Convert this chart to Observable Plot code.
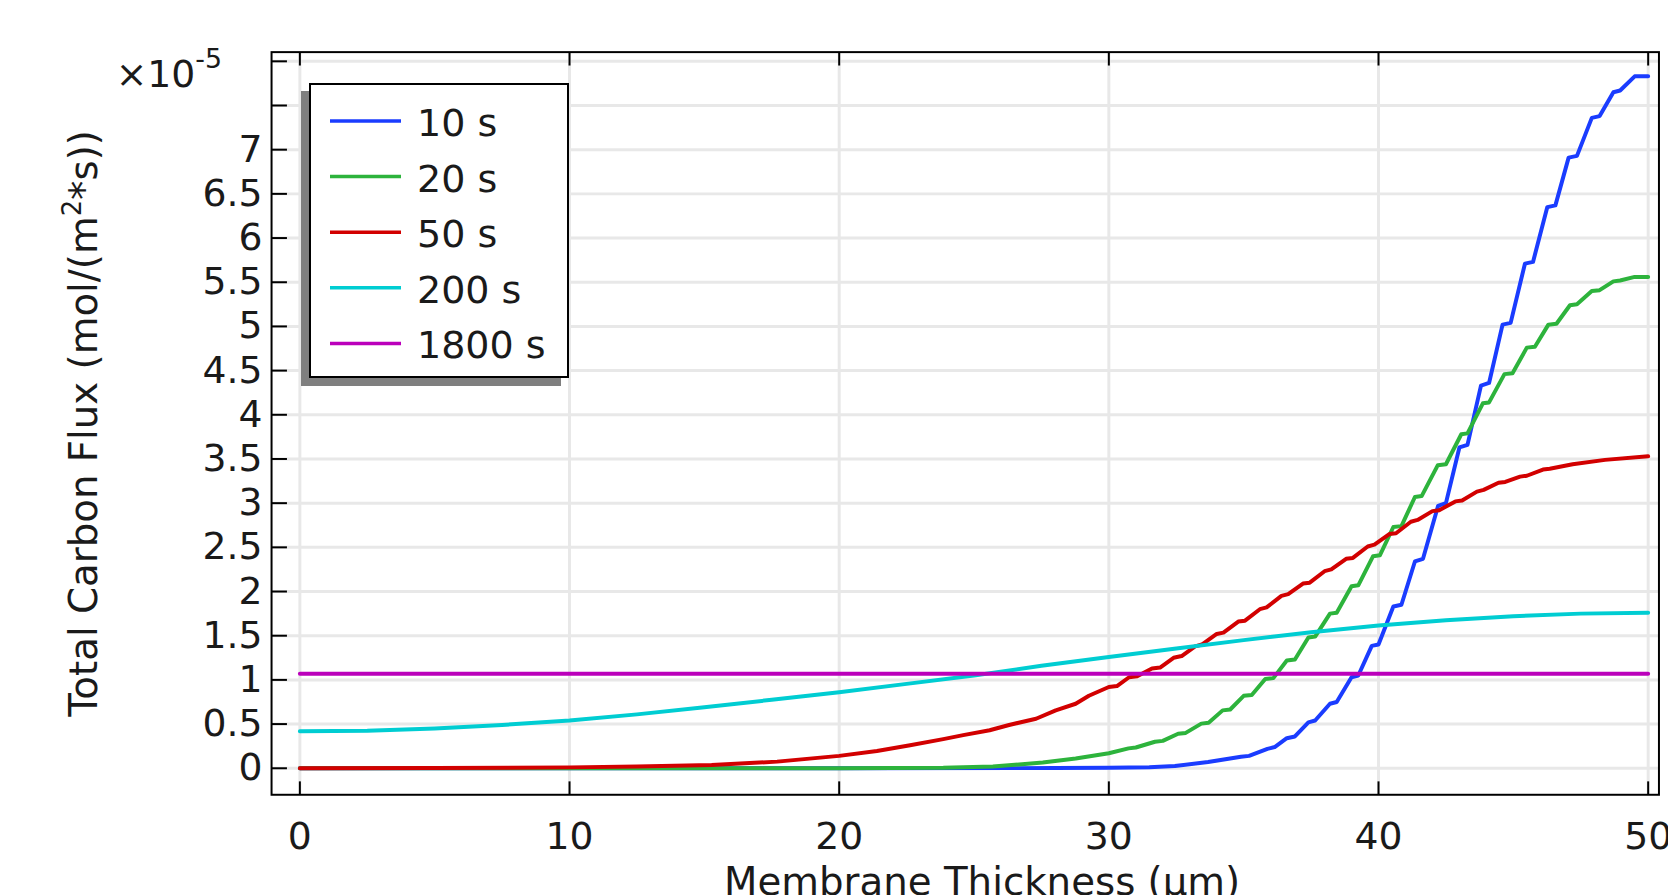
<!DOCTYPE html>
<html><head><meta charset="utf-8">
<script src="https://cdn.jsdelivr.net/npm/d3@7"></script>
<script src="https://cdn.jsdelivr.net/npm/@observablehq/plot@0.6"></script>
<style>
html,body{margin:0;padding:0;background:#fff;overflow:hidden;width:1668px;height:895px}
#wrap{position:relative;width:1668px;height:895px;overflow:hidden;background:#fff}
#legend{position:absolute;left:309px;top:83px;width:260px;height:295px;box-sizing:border-box;border:2px solid #000;background:#fff;box-shadow:-8px 8px 0 #7f7f7f}
#legend svg{display:block}
</style></head><body>
<div id="wrap"><div id="chart"></div><div id="legend"></div></div>
<script>
// ---- data (x in µm, y in units of 1e-5 mol/(m^2*s)) ----
const seriesNames = ["10 s", "20 s", "50 s", "200 s", "1800 s"];
const seriesColors = ["#1a3cff", "#2db33c", "#d20000", "#00cdd2", "#bb00bb"];

const flux10 = [[0,0],[10,0],[20,0],[28,0.002],[30,0.005],[31.5,0.012],[32.45,0.025],[33.68,0.07],[34.9,0.13],[35.2,0.14],[35.88,0.22],[36.15,0.24],[36.6,0.34],[36.9,0.36],[37.4,0.52],[37.65,0.54],[38.2,0.73],[38.45,0.75],[39.0,1.03],[39.25,1.05],[39.75,1.385],[40.0,1.40],[40.55,1.83],[40.85,1.85],[41.35,2.34],[41.65,2.37],[42.21,2.97],[42.5,3.0],[43.0,3.63],[43.3,3.66],[43.8,4.33],[44.1,4.36],[44.6,5.02],[44.9,5.04],[45.43,5.71],[45.73,5.73],[46.26,6.35],[46.56,6.37],[47.05,6.91],[47.36,6.93],[47.91,7.36],[48.2,7.38],[48.71,7.65],[48.96,7.67],[49.5,7.83],[50,7.83]];

const flux20 = [[0,0],[10,0],[20,0],[22,0.003],[23.86,0.005],[25.7,0.02],[27.55,0.065],[28.77,0.11],[30.0,0.17],[30.73,0.225],[31.0,0.235],[31.71,0.30],[32.0,0.31],[32.57,0.39],[32.85,0.40],[33.43,0.505],[33.7,0.515],[34.22,0.655],[34.5,0.665],[35.0,0.82],[35.3,0.83],[35.8,1.01],[36.1,1.02],[36.6,1.22],[36.9,1.23],[37.4,1.48],[37.65,1.49],[38.2,1.75],[38.45,1.76],[39.0,2.06],[39.25,2.07],[39.8,2.40],[40.05,2.41],[40.55,2.73],[40.85,2.74],[41.35,3.07],[41.6,3.08],[42.2,3.43],[42.5,3.44],[43.07,3.78],[43.3,3.79],[43.87,4.13],[44.1,4.14],[44.67,4.46],[44.97,4.47],[45.5,4.76],[45.8,4.77],[46.3,5.02],[46.6,5.03],[47.1,5.24],[47.36,5.25],[47.91,5.40],[48.2,5.41],[48.71,5.51],[48.96,5.52],[49.5,5.56],[50,5.56]];

const flux50 = [[0,0],[5,0.002],[10,0.01],[12.5,0.02],[15.27,0.037],[17.7,0.075],[20,0.14],[21.4,0.195],[22.63,0.26],[23.86,0.33],[24.6,0.375],[25.58,0.43],[26.3,0.49],[27.3,0.56],[28.03,0.655],[28.77,0.73],[29.26,0.82],[30.0,0.92],[30.3,0.93],[30.75,1.03],[31.05,1.04],[31.6,1.13],[31.9,1.14],[32.4,1.25],[32.7,1.27],[33.2,1.38],[33.45,1.40],[34.0,1.52],[34.25,1.535],[34.8,1.66],[35.05,1.67],[35.6,1.80],[35.85,1.82],[36.4,1.95],[36.65,1.97],[37.2,2.09],[37.45,2.10],[38.0,2.23],[38.25,2.25],[38.8,2.37],[39.05,2.38],[39.6,2.51],[39.85,2.53],[40.4,2.65],[40.65,2.66],[41.2,2.79],[41.45,2.81],[42.0,2.91],[42.25,2.92],[42.85,3.02],[43.1,3.03],[43.65,3.13],[43.9,3.15],[44.45,3.23],[44.7,3.24],[45.25,3.30],[45.5,3.31],[46.1,3.38],[46.35,3.39],[47.2,3.44],[48.4,3.49],[50,3.53]];

const flux200 = [[0,0.42],[2.5,0.425],[5,0.45],[7.5,0.49],[10,0.54],[12.5,0.61],[15,0.69],[17.5,0.775],[20,0.86],[22.5,0.955],[25,1.05],[27.5,1.16],[30,1.26],[32.5,1.355],[35,1.45],[37.5,1.54],[40,1.615],[42.5,1.675],[45,1.72],[47.5,1.75],[50,1.76]];

const flux1800 = [[0,1.07],[50,1.07]];

const xTicks = [0, 10, 20, 30, 40, 50];
const yTicks = [0, 0.5, 1, 1.5, 2, 2.5, 3, 3.5, 4, 4.5, 5, 5.5, 6, 6.5, 7, 7.5, 8];
const yLabelMax = 7;
const xLabel = "Membrane Thickness (µm)";
const yLabelParts = ["Total Carbon Flux (mol/(m", "2", "*s))"];
const expParts = ["×10", "-5"];

// ---- table for the library ----
const allSeries = [flux10, flux20, flux50, flux200, flux1800];
const rows = seriesNames.flatMap((name, i) => allSeries[i].map(([x, y]) => ({name, x, y})));

const FONT = "DejaVu Sans";
const FS = 38;
const LFS = 39;
const TXT = "#1a1a1a";

const chart = Plot.plot({
  width: 1680,
  height: 895,
  marginLeft: 273,
  marginRight: 9.6,
  marginTop: 52,
  marginBottom: 95,
  style: {fontFamily: FONT, fontSize: FS + "px", color: TXT, background: "transparent", overflow: "visible"},
  x: {domain: [-1.05, 50.4], axis: null},
  y: {domain: [-0.30, 8.104], axis: null},
  color: {domain: seriesNames, range: seriesColors},
  marks: [
    Plot.gridX(xTicks, {stroke: "#e8e8e8", strokeOpacity: 1, strokeWidth: 3}),
    Plot.gridY(yTicks, {stroke: "#e8e8e8", strokeOpacity: 1, strokeWidth: 3}),
    Plot.line(rows, {x: "x", y: "y", z: "name", stroke: "name", strokeWidth: 4, strokeLinejoin: "round", strokeLinecap: "round"}),
    Plot.frame({stroke: "#000", strokeWidth: 2}),
    Plot.axisX(xTicks, {anchor: "bottom", tickSize: -13, fill: "none", stroke: "#000", strokeWidth: 2, label: null}),
    Plot.axisX(xTicks, {anchor: "top", tickSize: -13, fill: "none", stroke: "#000", strokeWidth: 2, label: null}),
    Plot.axisY(yTicks, {anchor: "left", tickSize: -16, fill: "none", stroke: "#000", strokeWidth: 2, label: null}),
    Plot.axisX(xTicks, {anchor: "bottom", tickSize: 0, tickPadding: 28, fontSize: FS, fill: TXT, label: null, tickFormat: d => String(d)}),
    Plot.axisY(yTicks, {anchor: "left", tickSize: 0, tickPadding: 9, fontSize: FS, fill: TXT, label: null, tickFormat: d => d > yLabelMax ? "" : String(d)}),
    Plot.text([xLabel], {frameAnchor: "bottom", textAnchor: "middle", lineAnchor: "middle", dx: 17, dy: 88, fontSize: LFS, fill: TXT}),
    Plot.text([yLabelParts.join("")], {frameAnchor: "left", textAnchor: "middle", lineAnchor: "middle", dx: -188, rotate: -90, fontSize: LFS, fill: TXT}),
    Plot.text([expParts.join("")], {frameAnchor: "top-left", textAnchor: "start", lineAnchor: "middle", dx: -157, dy: 22.5, fontSize: FS, fill: TXT})
  ]
});
document.getElementById("chart").appendChild(chart);

// superscripts as real tspans
function superscript(parts, supSize, shift) {
  const full = parts.join("");
  const t = d3.select(chart).selectAll("text").filter(function () { return this.textContent === full; });
  if (t.empty()) return;
  t.text(null);
  parts.forEach((p, i) => {
    const ts = t.append("tspan").text(p);
    if (i % 2 === 1) ts.attr("font-size", supSize).attr("dy", -shift);
    else if (i > 0) ts.attr("dy", shift);
  });
}
superscript(yLabelParts, 26, 16);
superscript(expParts, 27, 19);

// legend (HTML/SVG overlay)
const lg = d3.select("#legend").append("svg").attr("width", 256).attr("height", 291)
  .style("font-family", FONT).style("font-size", FS + "px");
seriesNames.forEach((name, i) => {
  const cy = 36 + i * 55.6;
  lg.append("line").attr("x1", 19).attr("x2", 90).attr("y1", cy).attr("y2", cy)
    .attr("stroke", seriesColors[i]).attr("stroke-width", 3.5);
  lg.append("text").attr("x", 106).attr("y", cy + 15).attr("fill", TXT).text(name);
});
</script></body></html>
